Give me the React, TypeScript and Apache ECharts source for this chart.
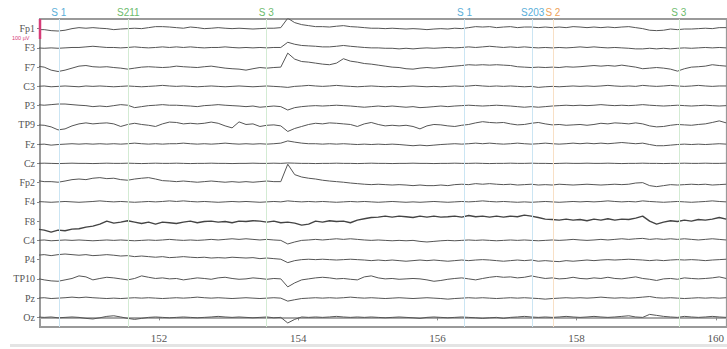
import React, { useEffect, useRef } from "react";
import * as echarts from "echarts";

// ---------- data ----------
const CHANNELS = ["Fp1", "F3", "F7", "C3", "P3", "TP9", "Fz", "Cz", "Fp2", "F4", "F8", "C4", "P4", "TP10", "Pz", "Oz"];

const T_START = 150.25; // s, first sample
const T_STEP = 0.1; // s between samples
const X_MIN = 150.29;
const X_MAX = 160.16;
const X_TICKS = [152, 154, 156, 158, 160];

const MARKER_NAMES = ["S 1", "S211", "S 3", "S 1", "S203", "S 2", "S 3"];
const MARKER_TIMES = [150.555, 151.565, 153.538, 156.386, 157.371, 157.655, 159.474];
const MARKER_KINDS = ["blue", "green", "green", "blue", "blue", "orange", "green"];

const UV_PER_CHANNEL = 96.25; // µV spanned by one channel slot
const SCALE_BAR_UV = 100;
const SCALE_LABEL = "100 µV";

// signals in µV (positive = up)
const fp1 = [-5, -5, -10, -12, -8, 0, 5, 2, 5, 2, 0, -5, -2, 0, 2, 0, 5, 10, 10, 8, 5, 2, 8, 5, 0, 2, 5, 2, 0, 2, 0, -2, 0, 2, 2, 5, 52, 30, 20, 15, 10, 10, 8, 12, 15, 10, 8, 5, 2, 2, 0, 2, 0, -2, 0, -2, -5, -2, 0, -2, 2, 0, 5, 10, 8, 10, 5, 8, 10, 5, 8, 8, 5, 8, 5, 8, 5, 10, 8, 5, 8, 5, 8, 5, 8, 10, 5, 0, -8, -10, -8, -2, -5, -2, -2, 0, 2, 0, 5, 5];
const f3 = [0, -2, 0, -2, 0, 2, 2, 5, 8, 5, 2, 2, 0, 2, 5, 2, 0, 2, 5, 2, 5, 2, 5, 2, 0, 2, 2, 5, 2, 0, 2, 0, 2, 0, 2, 2, 28, 18, 12, 10, 8, 5, 5, 8, 12, 8, 5, 2, 0, 0, -2, -2, -5, -2, -5, -2, 0, -2, 0, 2, 0, 2, 5, 2, 5, 8, 5, 2, 5, 2, 5, 2, 0, 2, 0, 2, 0, 2, 5, 2, 5, 2, 0, 2, 0, -2, -5, -5, -2, -5, -2, -5, -2, 0, -2, 0, 2, 0, 2, 0];
const f7 = [5, 0, -15, -22, -15, -5, 5, 8, 2, 0, 2, -2, -5, -10, -5, 0, 2, 0, -2, 0, 5, 2, 0, -2, 2, 5, 0, -5, -8, -10, -15, -8, -2, -5, -2, 0, 70, 40, 28, 25, 20, 15, 12, 20, 42, 30, 25, 18, 15, 10, 5, 0, -2, -8, -10, -5, -2, -5, -2, 2, 5, 8, 12, 10, 12, 10, 12, 10, 8, 2, 0, -2, 0, -2, 0, -2, 2, 0, 2, 5, 8, 5, 8, 5, 10, 5, 0, -8, -5, -2, -5, -10, -20, -8, 0, 2, 5, 12, 8, 5];
const c3 = [0, 2, -2, 0, 2, 0, -2, 2, 0, 2, 0, -2, 0, 2, 0, -2, 0, 2, 5, 2, 0, 2, 0, -2, 0, 2, 0, -2, 0, 2, 0, -2, 0, 2, 0, -2, -5, 0, 2, 5, 2, 0, 2, 5, 2, 0, -2, 0, 2, 0, -2, 0, -2, 0, 2, 0, -2, 0, -2, 0, 2, 0, 2, 5, 2, 0, 2, 0, 2, 0, -2, 0, -5, -2, 0, -2, 0, 2, 0, 2, 0, 2, 5, 2, 0, 2, 0, 5, 2, 0, 2, 5, 2, 0, 2, 5, 2, 0, 2, 2];
const p3 = [5, 2, 5, 8, 8, 5, 2, 0, -5, -2, -5, 0, 5, 2, -10, -5, 0, 2, 5, 2, 2, 0, -2, -5, 0, 2, 5, 2, 0, -2, -5, -2, -8, -5, -2, -5, -22, -10, -5, -2, 0, -2, 0, 2, 0, -2, -5, -8, -5, -2, -5, -2, -5, -8, -5, -10, -8, -5, -2, -5, -2, 0, 2, 0, -2, 0, 2, 0, -2, -5, -8, -5, -8, -5, -2, 0, 2, 0, 2, 0, 2, 5, 2, 0, 2, 0, 2, 5, 2, 0, -2, 0, 2, 0, -2, 0, 2, 0, -2, 0];
const tp9 = [0, -2, -10, -25, -20, -5, 5, 10, 5, 8, 10, 5, -8, 2, 8, 2, -2, -8, 5, 14, 12, 5, 8, 5, 8, 14, 8, -5, -15, 15, 2, 5, -8, -2, 0, -5, -33, -18, -8, 2, 8, 5, 10, 8, 5, 2, -8, 5, 12, 2, -5, -2, -5, -2, -8, -20, -5, 2, 0, -5, -8, -2, 2, 10, 16, 12, 10, 12, 5, 0, 2, 8, 12, 5, 0, 2, -2, 0, 2, -2, 2, 8, 5, 10, 8, 5, 10, 5, -5, -10, -8, -2, 2, 0, -2, 2, 5, 12, 20, 10];
const fz = [-2, 0, -5, -2, 0, 2, 0, 2, 0, 2, 0, 2, 0, 2, 5, 2, 0, 2, 0, 2, 2, 5, 2, 0, 2, 0, 2, 5, 2, 0, 2, 0, 2, 0, 2, 5, 16, 10, 5, 2, 2, 0, 2, 0, 2, 0, -2, 0, -2, 0, -2, 0, -2, -5, -8, -5, -8, -5, -2, 0, 2, 0, 2, 5, 2, 5, 2, 0, 2, 5, 2, 0, 2, 5, 2, 0, 2, 5, 2, 5, 2, 5, 2, 5, 8, 5, 2, 5, -2, -8, -8, -5, -2, 0, -2, 0, -2, 0, 2, 0];
const cz = [0, 1, 0, -1, 0, 1, 0, 0, -1, 0, 1, 0, 0, 1, 0, -1, 0, 1, 0, 0, 1, 0, -1, 0, 0, 1, 0, 0, -1, 0, 0, 1, 0, 0, 1, 0, 2, 1, 0, 0, -1, 0, 0, 1, 0, 0, -1, 0, 1, 0, 0, -1, 0, 0, 1, 0, 0, -1, 0, 0, 1, 0, 0, 1, 0, -1, 0, 0, 1, 0, 0, 1, 0, 0, -1, 0, 1, 0, 0, 1, 0, 0, 1, 0, -1, 0, 0, 1, 0, 0, -1, 0, 0, 1, 0, 0, 1, 0, 0, 1];
const fp2 = [10, 5, 5, 2, 8, 15, 18, 15, 22, 25, 20, 22, 15, 12, 18, 22, 25, 18, 10, 8, 5, 8, 5, 2, 5, 8, 5, 2, 5, 2, 5, 2, 5, 8, 5, 5, 92, 40, 28, 22, 18, 12, 8, 5, 2, -2, -5, -8, -10, -8, -10, -12, -10, -12, -15, -12, -15, -15, -12, -15, -10, -8, -10, -5, -8, -5, -8, -10, -8, -12, -10, -8, -12, -10, -12, -8, -10, -12, -10, -8, -10, -12, -10, -8, -10, -8, -2, 0, -15, -20, -15, -10, -12, -10, -8, -10, -8, -12, -10, -8];
const f4 = [2, 0, -2, 0, 2, 0, -2, 0, 2, 5, 2, 0, 2, 0, -2, 0, 2, 0, 2, 5, 2, 5, 2, 0, 2, 0, -2, 0, 2, 0, 2, 0, -2, 0, 2, 0, 5, 2, 0, 2, 0, 2, 0, -2, 0, 2, 0, 2, 0, -2, 0, 2, 0, -2, 0, -2, 0, 2, 0, -2, 0, 2, 0, 2, 5, 2, 0, 2, 0, -2, 0, -2, 0, 2, 0, -2, 0, 2, 0, 2, 0, 2, 5, 2, 0, 2, 0, 5, 2, 0, -2, 0, 2, 0, -2, 0, 2, 5, 2, 0];
const f8 = [-40, -45, -55, -45, -48, -40, -38, -30, -25, -15, 0, -10, -5, 2, -5, -12, -5, -15, -5, -8, -12, -5, 0, -8, -2, 0, -5, -2, -8, 0, -2, 2, 0, -5, 0, -8, -5, -10, -20, -15, 0, -5, 2, -2, 0, -8, 5, 12, 18, 20, 25, 20, 25, 22, 18, 25, 20, 25, 20, 22, 25, 20, 28, 22, 25, 20, 25, 20, 25, 22, 30, 25, 18, 10, 8, 5, 10, 5, 8, 2, 10, 5, 12, 5, 10, 8, 15, 25, 0, -15, -5, 2, -2, 5, 0, 8, 5, 10, 18, 10];
const c4 = [0, 2, -2, 0, 2, 0, 2, 0, -2, 0, 2, 0, 2, 0, -2, 0, 2, 0, 2, 5, 2, 0, 2, 0, 2, 5, 2, 5, 8, 5, 8, 5, 2, 5, 2, 0, -18, -8, 0, 2, 5, 2, 5, 8, 5, 8, 5, 2, 0, 2, 0, -2, 0, -2, 0, -5, -8, -5, -2, 0, -2, 0, 2, 0, 2, 0, -2, 0, 2, 0, 2, 0, -2, 0, 2, 0, 2, 5, 2, 0, 2, 5, 2, 5, 8, 5, 8, 10, 5, 8, 5, 8, 5, 8, 5, 2, 5, 8, 5, 2];
const p4 = [22, 25, 20, 25, 28, 25, 22, 25, 20, 22, 25, 22, 18, 20, 15, 18, 15, 12, 15, 10, 12, 15, 12, 10, 12, 8, 10, 8, 12, 10, 8, 10, 5, 8, 5, 2, -15, -5, 0, 2, 0, 2, 0, -2, 0, 2, 0, -2, -5, -2, -5, -2, -5, -8, -5, -2, -5, -2, -5, -8, -5, -2, -5, -2, 0, -2, -5, -8, -5, -2, -5, -2, -8, -5, -8, -10, -5, -8, -5, -2, -5, -2, 0, -2, 0, 2, 0, -2, -5, -2, -5, -2, 0, -2, 0, -2, -5, -2, 0, 2];
const tp10 = [2, -5, -10, -12, -5, 2, 15, 10, -5, 2, 8, 5, 0, -5, 2, 15, 8, 2, 5, 0, 2, -5, 0, 5, 2, -2, 5, 8, 2, -2, 0, 5, 2, -2, 2, 0, -40, -20, -5, 0, 5, 8, 5, 0, 2, -2, -5, 10, 15, 5, 0, 2, -2, 0, 2, 0, -5, -12, -8, -2, 2, 5, 0, -5, 2, 8, 12, 8, 10, 5, 8, 15, 8, 2, 5, 0, 2, 8, 2, 0, 5, 2, 8, 2, 0, 5, 10, 2, -2, -8, 0, 2, -2, 5, 2, 0, 2, 5, 10, 2];
const pz = [0, 2, -2, 0, 2, 5, 2, 5, 2, 0, -2, 0, -2, 0, 2, 0, 2, 0, -2, 0, 2, 0, 2, 5, 2, 0, 2, 0, -2, 0, 2, 0, -2, 0, 2, 0, -15, -8, -2, 0, 2, 0, 2, 0, 2, 5, 2, 0, 2, 0, -2, 0, 2, 0, -2, 0, 2, 0, -2, -5, -2, 0, 2, 0, 2, 0, -2, 0, 2, 0, 2, 0, -2, -5, -2, 0, 2, 0, 2, 0, 2, 5, 2, 0, 2, 0, 2, 5, 8, 2, 0, 2, 0, -2, 0, 2, 0, 2, 0, 2];
const oz = [2, 0, 2, -2, 0, 2, 0, -5, -8, -2, 5, 8, 2, -5, -10, -5, 0, 2, 0, -2, 0, 2, 0, -2, 0, 2, 5, 2, 0, 2, 0, -2, 0, 2, -2, 0, -28, -10, 2, 0, 2, 0, 2, 5, 2, 0, 2, 0, 2, 0, -2, 0, 2, 0, -2, -5, 0, 2, 0, -2, 0, 2, 0, -2, -5, -2, 0, -5, 0, 2, 5, 2, 0, 2, 0, 2, 5, 2, 0, 2, 5, 2, 0, 2, 5, 8, 2, 0, 15, 10, 5, 2, 0, 5, 2, 0, 2, 5, 2, 0];

const SIGNALS = [fp1, f3, f7, c3, p3, tp9, fz, cz, fp2, f4, f8, c4, p4, tp10, pz, oz];

// ---------- styles ----------
const MARKER_COLORS: Record<string, { line: string; text: string }> = {
  blue: { line: "#cbe5f3", text: "#5aaed8" },
  green: { line: "#d3ebd3", text: "#6dbb6d" },
  orange: { line: "#f8e0c6", text: "#eea25a" },
};
const TRACE_COLOR = "#555555";
const SCALE_COLOR = "#d63c78";
const N = CHANNELS.length;

export default function App() {
  const ref = useRef<HTMLDivElement>(null);

  useEffect(() => {
    if (!ref.current) return;
    const chart = echarts.init(ref.current, null, { renderer: "svg" });

    const top = N - 0.5;
    const traceSeries = CHANNELS.map((name, i) => {
      const base = N - 1 - i;
      const sig = SIGNALS[i];
      return {
        type: "line",
        name,
        data: sig.map((v, k) => [T_START + k * T_STEP, base + v / UV_PER_CHANNEL]),
        showSymbol: false,
        symbol: "none",
        silent: true,
        z: 3,
        lineStyle: { color: name === "F8" ? "#444" : TRACE_COLOR, width: name === "F8" ? 1.4 : 1 },
      };
    });

    const markerSeries = {
      type: "line",
      name: "markers",
      data: [],
      silent: true,
      z: 1,
      markLine: {
        symbol: "none",
        silent: true,
        animation: false,
        data: MARKER_TIMES.map((t, j) => ({
          xAxis: t,
          name: MARKER_NAMES[j],
          lineStyle: { color: MARKER_COLORS[MARKER_KINDS[j]].line, width: 1, type: "solid" },
          label: {
            show: true,
            position: "end",
            formatter: "{b}",
            color: MARKER_COLORS[MARKER_KINDS[j]].text,
            fontSize: 10,
            fontFamily: "Liberation Sans, sans-serif",
            distance: 2,
          },
        })),
      },
    };

    const scaleSeries = {
      type: "line",
      name: "scale",
      data: [
        [X_MIN, top],
        [X_MIN, top - SCALE_BAR_UV / UV_PER_CHANNEL],
      ],
      showSymbol: false,
      symbol: "none",
      clip: false,
      silent: true,
      z: 6,
      lineStyle: { color: SCALE_COLOR, width: 2.5 },
    };

    chart.setOption({
      animation: false,
      backgroundColor: "#ffffff",
      grid: {
        left: 40,
        right: -2,
        top: 19,
        bottom: 22,
        show: true,
        borderColor: "#9a9a9a",
        borderWidth: 2,
        backgroundColor: "transparent",
      },
      xAxis: {
        type: "value",
        min: X_MIN,
        max: X_MAX,
        axisLine: { show: true, lineStyle: { color: "#a8a8a8", width: 2 } },
        axisTick: { show: true, customValues: X_TICKS, length: 3, lineStyle: { color: "#888" } },
        axisLabel: {
          customValues: X_TICKS,
          color: "#555",
          fontSize: 11,
          fontFamily: "Liberation Serif, serif",
          margin: 5,
        },
        splitLine: { show: false },
      },
      yAxis: {
        type: "value",
        min: -0.5,
        max: N - 0.5,
        axisLine: { show: true, lineStyle: { color: "#9a9a9a", width: 2 } },
        axisTick: {
          show: true,
          customValues: CHANNELS.map((_, i) => i),
          length: 3,
          lineStyle: { color: "#888" },
        },
        axisLabel: {
          customValues: CHANNELS.map((_, i) => i),
          formatter: (v: number) => CHANNELS[N - 1 - Math.round(v)],
          color: "#555",
          fontSize: 10,
          fontFamily: "Liberation Serif, serif",
          margin: 5,
        },
        splitLine: { show: false },
      },
      graphic: [
        {
          type: "text",
          left: 12,
          top: 35,
          silent: true,
          style: { text: SCALE_LABEL, fill: SCALE_COLOR, fontSize: 5.5, fontFamily: "Liberation Sans, sans-serif" },
        },
        {
          type: "rect",
          silent: true,
          shape: { x: 10, y: 344, width: 717, height: 3 },
          style: { fill: "#e4e4e4" },
        },
      ],
      series: [markerSeries, ...traceSeries, scaleSeries],
    });

    return () => chart.dispose();
  }, []);

  return (
    <div
      ref={ref}
      style={{ position: "fixed", left: 0, top: 0, width: 727, height: 349, background: "#fff" }}
    />
  );
}
